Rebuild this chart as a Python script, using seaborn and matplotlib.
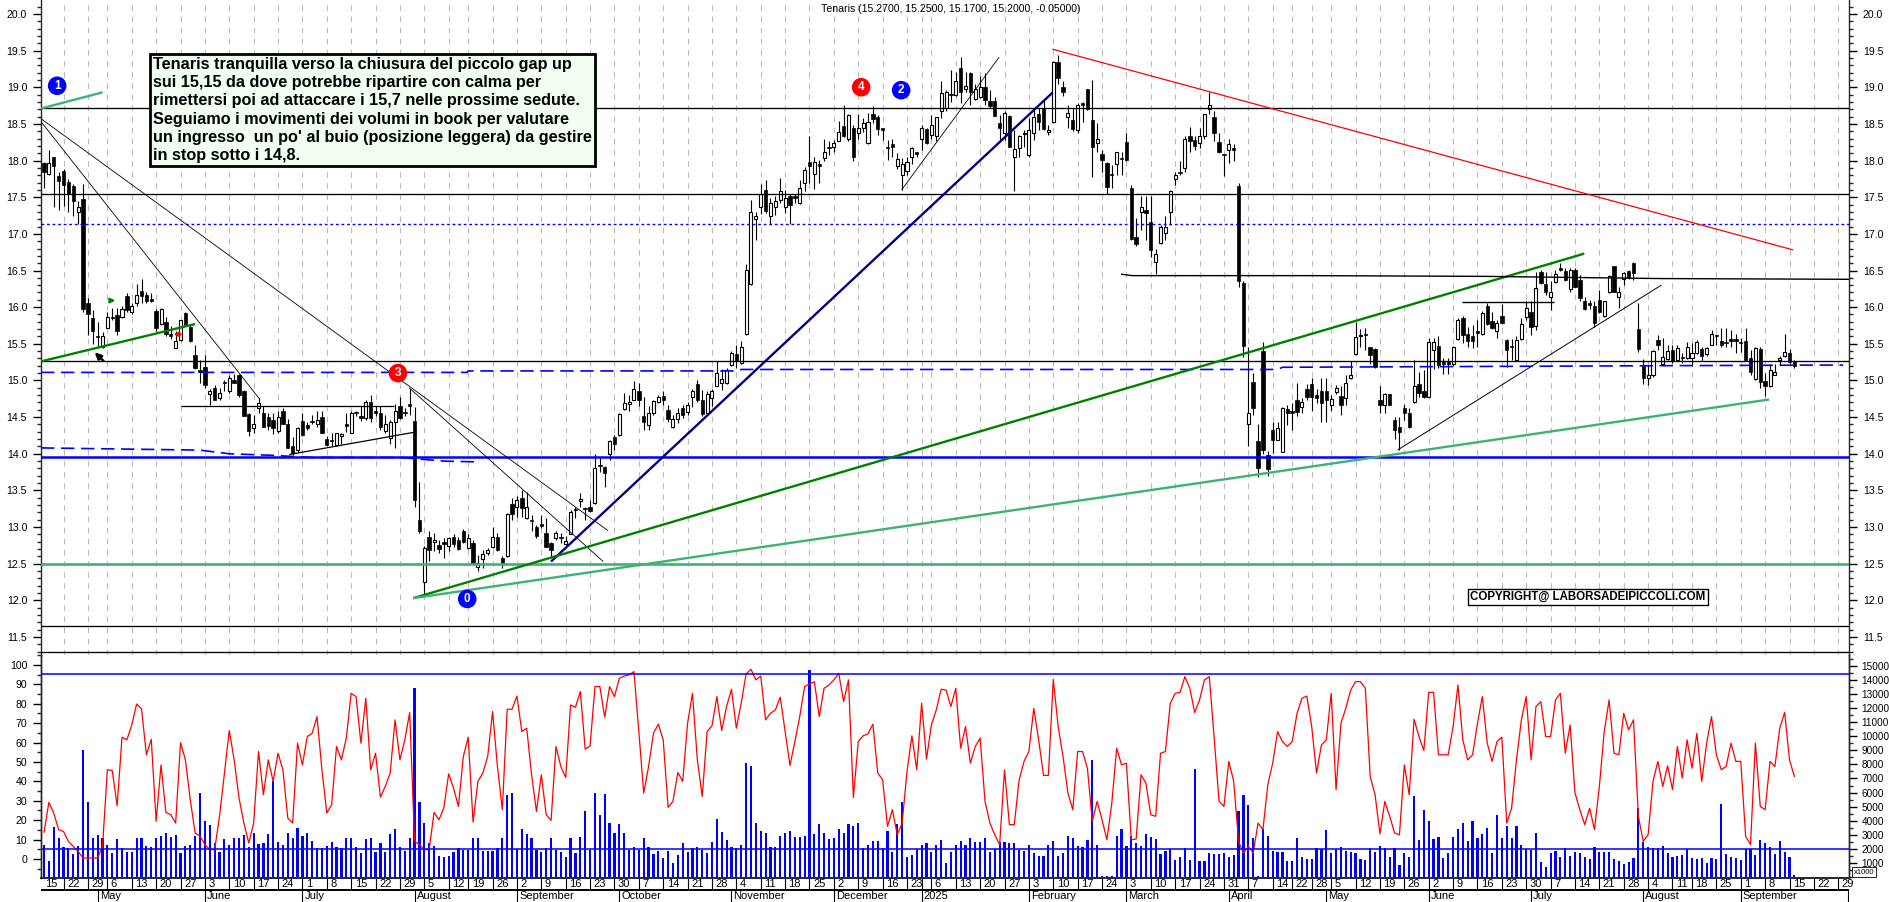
"""Tenaris daily candles with oscillator and volume panel, out.png"""
import matplotlib
matplotlib.use('Agg')
import matplotlib.pyplot as plt
from matplotlib.ticker import MultipleLocator
import numpy as np
import pandas as pd
import seaborn as sns

W, H = 1890, 902

opens = [
    17.97,17.82,18.05,17.79,17.86,17.71,17.65,17.30,17.48,16.05,
    15.85,15.60,15.46,15.72,15.85,15.89,15.86,16.15,15.93,16.06,
    16.22,16.17,16.09,15.95,15.77,15.80,15.61,15.44,15.55,15.92,
    15.73,15.35,15.12,15.19,14.82,14.90,14.76,14.96,14.85,15.00,
    15.07,14.86,14.54,14.35,14.62,14.55,14.50,14.46,14.31,14.58,
    14.40,14.10,14.05,14.45,14.39,14.43,14.41,14.50,14.20,14.17,
    14.12,14.24,14.38,14.29,14.55,14.49,14.49,14.70,14.56,14.55,
    14.31,14.21,14.44,14.65,14.55,14.68,14.45,13.09,12.25,12.87,
    12.79,12.76,12.77,12.74,12.87,12.82,12.94,12.72,12.78,12.45,
    12.56,12.64,12.73,12.87,12.58,12.60,13.32,13.27,13.39,13.12,
    13.08,13.00,13.02,12.92,12.78,12.85,12.85,12.77,12.91,13.23,
    13.35,13.24,13.28,13.33,13.85,13.82,14.00,14.23,14.25,14.61,
    14.68,14.74,14.86,14.52,14.39,14.56,14.71,14.79,14.60,14.36,
    14.48,14.63,14.57,14.77,14.95,14.74,14.55,14.76,14.93,14.96,
    14.96,15.21,15.36,15.24,15.63,16.31,17.20,17.36,17.60,17.24,
    17.36,17.46,17.36,17.51,17.52,17.42,17.69,17.98,17.81,17.93,
    18.03,18.17,18.19,18.27,18.47,18.30,18.45,18.38,18.45,18.24,
    18.63,18.59,18.42,18.17,18.22,17.93,17.80,17.86,18.05,18.09,
    18.30,18.43,18.35,18.33,18.68,18.71,18.89,18.90,19.26,18.98,
    19.19,18.84,18.87,19.00,18.81,18.81,18.51,18.38,18.61,18.05,
    18.17,18.36,18.07,18.37,18.63,18.70,18.39,18.52,19.35,19.00,
    18.59,18.55,18.42,18.76,18.98,18.55,18.24,18.09,17.96,17.80,
    17.95,18.02,18.25,17.62,16.96,17.30,17.33,17.16,16.61,16.87,
    17.01,17.30,17.75,17.83,17.90,18.34,18.28,18.24,18.34,18.70,
    18.59,18.25,18.07,18.15,18.17,17.65,16.33,14.40,14.98,14.17,
    15.40,13.98,14.33,14.19,14.03,14.61,14.56,14.74,14.64,14.89,
    14.95,14.80,14.86,14.86,14.66,14.84,14.79,14.76,15.04,15.36,
    15.60,15.62,15.45,15.43,14.74,14.67,14.82,14.46,14.37,14.63,
    14.56,14.70,14.95,14.86,14.78,15.42,15.47,15.23,15.23,15.22,
    15.56,15.85,15.63,15.60,15.65,15.63,16.01,15.81,15.68,15.88,
    15.55,15.45,15.28,15.57,15.86,15.94,15.74,16.48,16.32,16.14,
    16.34,16.51,16.49,16.25,16.51,16.37,16.08,16.03,16.01,16.10,
    15.88,16.20,16.56,16.14,16.38,16.49,16.60,15.70,15.20,15.03,
    15.07,15.55,15.22,15.29,15.42,15.28,15.30,15.31,15.30,15.37,
    15.43,15.36,15.49,15.60,15.54,15.51,15.54,15.54,15.51,15.54,
    15.30,15.02,15.43,14.99,14.92,15.08,15.28,15.33,15.37,15.27,
]
highs = [
    17.98,18.15,18.05,17.85,17.88,17.75,17.68,17.45,17.68,16.12,
    15.96,15.80,15.66,15.94,15.99,15.99,16.01,16.19,16.05,16.32,
    16.39,16.21,16.19,15.98,15.99,15.86,15.74,15.67,15.83,15.94,
    15.76,15.48,15.28,15.35,14.88,14.94,14.90,15.01,15.08,15.09,
    15.09,14.87,14.55,14.53,14.76,14.65,14.55,14.55,14.58,14.63,
    14.48,14.23,14.37,14.55,14.44,14.53,14.58,14.58,14.24,14.28,
    14.29,14.29,14.55,14.58,14.58,14.65,14.74,14.80,14.65,14.65,
    14.53,14.46,14.68,14.77,14.62,14.88,14.64,13.62,12.74,12.94,
    12.92,12.83,12.85,12.87,12.90,12.87,12.97,12.90,12.83,12.62,
    12.69,12.71,13.00,12.92,12.61,13.19,13.39,13.42,13.50,13.48,
    13.17,13.03,13.17,13.12,12.79,12.94,12.92,12.88,13.23,13.28,
    13.46,13.28,13.37,14.00,13.94,13.84,14.19,14.26,14.55,14.83,
    14.80,14.99,14.96,14.78,14.65,14.73,14.80,14.86,14.67,14.53,
    14.62,14.67,14.71,14.89,15.00,14.87,14.85,14.88,15.27,15.15,
    15.17,15.40,15.49,15.54,16.59,17.46,17.30,17.68,17.73,17.49,
    17.51,17.76,17.60,17.55,17.55,17.73,17.91,18.33,18.05,18.01,
    18.30,18.26,18.28,18.54,18.76,18.64,18.49,18.64,18.58,18.65,
    18.74,18.62,18.44,18.28,18.29,18.10,18.03,18.05,18.19,18.10,
    18.49,18.45,18.62,18.60,19.08,18.96,19.24,19.21,19.41,19.21,
    19.21,19.05,19.15,19.19,18.96,18.87,18.62,18.67,18.62,18.42,
    18.35,18.42,18.58,18.69,18.71,18.83,18.49,19.36,19.44,19.08,
    18.76,18.71,18.78,18.80,18.98,19.10,18.51,18.15,17.98,17.94,
    18.12,18.12,18.37,17.67,17.21,17.51,17.52,17.51,16.80,17.12,
    17.24,17.60,17.85,17.99,18.33,18.46,18.33,18.44,18.64,18.94,
    18.67,18.37,18.08,18.30,18.23,17.69,16.35,15.46,15.10,14.40,
    15.53,14.04,14.44,14.44,14.64,14.67,14.69,14.96,14.76,14.95,
    15.03,14.89,15.03,15.03,14.80,14.94,14.92,15.07,15.26,15.80,
    15.70,15.71,15.45,15.44,14.92,14.83,14.82,14.50,14.50,14.68,
    14.62,15.28,15.12,15.14,15.58,15.58,15.61,15.30,15.30,15.47,
    15.85,15.88,15.73,15.76,15.83,15.95,16.05,15.93,15.83,16.04,
    15.57,15.57,15.60,15.85,16.08,16.08,16.48,16.51,16.48,16.35,
    16.51,16.60,16.53,16.54,16.53,16.44,16.14,16.10,16.09,16.23,
    16.09,16.44,16.56,16.27,16.48,16.51,16.62,16.06,15.29,15.21,
    15.42,15.62,15.58,15.49,15.49,15.49,15.38,15.53,15.51,15.55,
    15.46,15.46,15.69,15.64,15.71,15.71,15.69,15.64,15.58,15.71,
    15.42,15.45,15.45,15.10,15.23,15.23,15.33,15.64,15.43,15.28,
]
lows = [
    17.63,17.80,17.37,17.33,17.38,17.30,17.24,17.13,15.94,15.62,
    15.50,15.46,15.44,15.72,15.82,15.62,15.85,15.94,15.90,16.01,
    16.05,16.06,16.07,15.67,15.76,15.60,15.56,15.44,15.54,15.74,
    15.53,15.15,14.96,14.90,14.67,14.73,14.74,14.85,14.83,14.96,
    14.77,14.51,14.24,14.28,14.55,14.36,14.33,14.27,14.29,14.40,
    14.08,13.99,14.03,14.24,14.33,14.40,14.37,14.28,14.10,14.10,
    14.11,14.14,14.30,14.28,14.51,14.45,14.46,14.44,14.51,14.33,
    14.28,14.14,14.08,14.48,14.51,14.53,13.28,12.92,12.07,12.54,
    12.67,12.64,12.58,12.67,12.73,12.69,12.78,12.70,12.48,12.40,
    12.44,12.62,12.71,12.68,12.44,12.59,13.10,13.14,13.14,13.11,
    12.94,12.85,12.99,12.73,12.58,12.83,12.78,12.75,12.90,13.12,
    13.28,13.10,13.21,13.32,13.75,13.55,13.91,14.05,14.24,14.60,
    14.58,14.73,14.65,14.32,14.32,14.53,14.69,14.67,14.44,14.35,
    14.42,14.49,14.53,14.64,14.71,14.52,14.53,14.65,14.92,14.87,
    14.95,15.20,15.17,15.22,15.62,16.30,16.92,17.27,17.28,17.13,
    17.26,17.42,17.28,17.13,17.42,17.41,17.58,17.69,17.61,17.69,
    17.99,18.08,18.12,18.26,18.32,18.26,17.99,18.29,18.39,18.23,
    18.51,18.35,18.28,18.01,18.05,17.89,17.60,17.80,17.95,18.05,
    18.15,18.23,18.29,18.26,18.58,18.67,18.80,18.88,18.78,18.94,
    18.76,18.83,18.85,18.76,18.71,18.61,18.28,18.28,18.18,17.59,
    18.05,18.19,18.05,18.28,18.42,18.42,18.35,18.51,19.05,18.88,
    18.44,18.40,18.38,18.53,18.69,17.78,18.12,17.85,17.55,17.62,
    17.80,17.80,17.99,16.92,16.83,17.05,16.92,16.69,16.45,16.86,
    16.92,17.12,17.67,17.80,17.85,18.12,18.15,18.17,18.30,18.64,
    18.26,18.10,17.79,17.96,18.00,16.27,15.32,14.10,14.53,13.68,
    14.00,13.70,14.01,14.19,14.02,14.39,14.33,14.51,14.55,14.73,
    14.59,14.69,14.44,14.44,14.58,14.82,14.53,14.67,15.02,15.35,
    15.46,15.42,15.23,15.17,14.56,14.55,14.66,14.20,14.05,14.46,
    14.35,14.69,14.78,14.76,14.77,15.15,15.17,15.09,15.09,15.20,
    15.55,15.51,15.46,15.44,15.45,15.62,15.76,15.70,15.58,15.77,
    15.18,15.28,15.26,15.55,15.83,15.62,15.69,16.31,16.17,15.96,
    16.33,16.49,16.35,16.20,16.27,16.08,15.96,15.98,15.73,15.92,
    15.87,16.19,16.21,15.99,16.30,16.38,16.37,15.39,14.95,14.94,
    15.05,15.42,15.21,15.28,15.24,15.26,15.24,15.29,15.20,15.36,
    15.27,15.33,15.48,15.49,15.45,15.46,15.46,15.37,15.39,15.27,
    15.07,15.01,14.90,14.79,14.91,15.07,15.21,15.32,15.23,15.17,
]
closes = [
    17.85,17.97,17.92,17.72,17.67,17.55,17.45,17.36,15.98,15.90,
    15.67,15.59,15.60,15.87,15.85,15.67,15.97,15.96,16.02,16.17,
    16.15,16.08,16.09,15.71,15.97,15.63,15.61,15.54,15.82,15.76,
    15.54,15.17,15.12,14.94,14.85,14.74,14.83,14.96,15.03,14.96,
    14.80,14.52,14.31,14.40,14.69,14.37,14.38,14.35,14.50,14.41,
    14.08,14.01,14.35,14.25,14.35,14.43,14.46,14.28,14.12,14.17,
    14.28,14.27,14.38,14.56,14.55,14.49,14.71,14.49,14.56,14.37,
    14.41,14.44,14.59,14.49,14.55,14.65,13.37,12.95,12.71,12.69,
    12.83,12.70,12.77,12.85,12.77,12.70,12.79,12.85,12.51,12.51,
    12.63,12.69,12.86,12.69,12.51,13.18,13.18,13.37,13.26,13.27,
    13.08,12.88,13.02,12.73,12.69,12.92,12.85,12.81,13.21,13.23,
    13.38,13.24,13.22,13.80,13.83,13.74,14.17,14.13,14.54,14.69,
    14.70,14.88,14.74,14.44,14.56,14.72,14.77,14.73,14.47,14.48,
    14.55,14.53,14.67,14.85,14.73,14.54,14.82,14.85,15.10,15.02,
    15.14,15.37,15.27,15.46,16.51,17.30,17.25,17.55,17.31,17.42,
    17.45,17.59,17.49,17.40,17.49,17.62,17.87,17.92,17.98,17.93,
    18.12,18.17,18.24,18.39,18.34,18.62,18.05,18.45,18.51,18.52,
    18.57,18.43,18.42,18.17,18.19,18.02,17.95,17.98,18.17,18.09,
    18.45,18.24,18.48,18.59,18.92,18.93,18.89,19.08,18.93,19.02,
    18.93,18.97,19.00,18.83,18.74,18.61,18.45,18.65,18.19,18.16,
    18.33,18.38,18.41,18.60,18.52,18.43,18.42,19.34,19.13,18.93,
    18.65,18.43,18.76,18.76,18.70,18.19,18.29,18.01,17.64,17.80,
    18.11,18.02,18.01,16.93,16.86,17.36,17.28,16.78,16.72,17.09,
    17.10,17.58,17.80,17.83,18.30,18.27,18.20,18.33,18.63,18.76,
    18.37,18.12,18.07,18.23,18.15,16.35,15.47,14.55,14.62,13.81,
    14.05,13.79,14.19,14.35,14.62,14.55,14.56,14.57,14.70,14.78,
    14.78,14.76,14.69,14.74,14.75,14.90,14.67,14.96,15.07,15.59,
    15.62,15.62,15.35,15.18,14.67,14.82,14.67,14.33,14.30,14.56,
    14.37,14.92,14.83,14.77,15.52,15.52,15.21,15.23,15.23,15.46,
    15.83,15.62,15.54,15.54,15.65,15.92,15.77,15.72,15.78,15.79,
    15.42,15.45,15.55,15.77,15.99,15.73,16.26,16.33,16.20,16.20,
    16.45,16.51,16.37,16.51,16.28,16.12,15.97,16.03,15.79,15.93,
    16.08,16.43,16.21,16.20,16.46,16.40,16.47,15.43,15.04,15.07,
    15.40,15.48,15.32,15.40,15.27,15.44,15.30,15.46,15.37,15.53,
    15.34,15.44,15.64,15.60,15.49,15.51,15.54,15.54,15.51,15.28,
    15.11,15.44,14.98,14.93,15.14,15.11,15.30,15.39,15.25,15.20,
]
volumes = [
    2.27,1.13,3.57,2.74,2.10,2.03,1.60,2.20,9.02,5.30,
    2.80,3.00,2.80,2.27,1.68,2.67,2.03,1.80,1.75,2.74,
    2.74,2.20,2.10,2.74,2.93,3.10,2.86,3.00,1.73,2.20,
    2.27,2.90,5.94,3.97,3.69,2.44,1.80,2.67,2.30,2.74,
    2.80,3.00,2.10,3.10,2.32,2.39,3.05,6.84,2.51,2.27,
    3.10,2.74,3.45,2.91,3.10,2.55,2.03,2.03,2.20,2.46,
    2.10,2.03,2.74,2.74,2.10,1.73,2.67,2.74,1.80,2.39,
    1.80,3.03,3.38,2.10,1.84,2.79,13.40,5.30,3.86,2.44,
    2.20,1.49,1.44,1.49,1.80,2.03,1.92,1.92,2.74,2.74,
    1.87,1.87,1.87,2.03,2.79,5.82,5.94,1.96,3.38,3.05,
    2.74,1.92,1.80,2.03,2.74,1.92,1.75,1.44,2.74,1.73,
    2.81,4.68,1.92,5.94,4.40,5.87,3.81,3.10,3.74,3.14,
    1.92,2.10,1.92,2.74,2.10,1.63,1.84,1.32,1.84,0.97,
    1.56,2.39,1.80,2.03,2.10,1.92,1.68,2.46,4.12,3.17,
    2.62,2.10,2.03,2.27,8.07,7.88,3.81,3.29,3.10,2.10,
    2.10,2.93,3.10,3.26,2.86,2.86,2.91,14.70,3.03,3.74,
    3.14,2.67,2.74,3.41,3.14,3.76,3.64,3.86,2.03,2.27,
    2.55,2.55,2.03,3.26,1.75,3.76,5.30,1.39,1.56,1.96,
    2.27,2.39,1.80,2.27,2.62,0.97,1.80,2.27,2.55,2.27,
    2.74,2.51,2.51,2.79,1.75,1.96,2.51,2.46,2.44,2.44,
    1.92,1.84,2.27,1.73,1.51,1.51,2.27,2.58,1.51,1.73,
    2.93,2.79,2.20,2.10,2.62,8.31,2.27,0.07,0.07,0.07,
    2.93,3.41,2.20,2.91,2.44,2.20,3.03,2.86,2.67,1.63,
    1.87,1.96,1.21,1.44,2.03,1.21,7.70,1.13,1.13,1.68,
    1.63,1.63,1.72,1.44,1.56,4.68,5.82,5.10,2.74,0.07,
    3.41,2.93,1.87,1.75,1.80,1.13,1.13,2.74,1.39,1.27,
    1.27,2.03,1.98,3.34,1.72,1.98,2.10,1.84,1.80,1.68,
    1.25,1.21,2.03,1.80,2.20,2.03,1.44,2.03,0.85,1.68,
    1.44,5.75,2.62,4.75,3.98,2.67,2.82,1.32,1.73,2.82,
    3.38,3.86,2.58,4.00,2.79,3.05,3.45,1.73,4.40,2.79,
    3.64,2.79,3.64,2.27,1.96,1.92,3.10,1.09,0.69,1.72,
    1.84,1.44,2.03,1.51,1.80,1.72,1.44,1.27,2.10,1.80,
    1.80,1.80,1.27,1.16,0.92,1.04,1.32,4.92,2.51,2.10,
    2.03,2.03,2.20,1.68,1.44,1.51,1.56,1.96,1.32,1.27,
    1.32,1.02,1.32,1.27,5.20,1.63,1.39,1.32,1.21,1.96,
    1.96,1.56,2.62,2.44,2.10,1.63,2.55,1.80,1.44,0.14,
]
oscillator = [
    13.7,29.2,23.7,15.1,14.2,9.1,6.5,3.9,0.5,0.5,0.5,0.5,6.5,46.0,45.6,27.4,
    62.8,61.4,69.1,79.9,77.4,53.7,61.7,19.4,48.5,24.0,22.8,18.5,60.0,51.1,30.5,13.4,
    11.7,7.4,4.8,4.8,22.0,44.3,66.2,51.1,31.4,18.5,8.2,18.5,55.4,33.1,51.1,40.0,
    54.5,46.0,21.1,18.5,59.7,48.5,63.1,64.8,73.4,46.0,23.7,28.0,58.0,51.1,62.3,85.4,
    83.7,59.7,82.8,46.0,54.5,31.9,37.4,44.3,71.7,51.1,61.4,75.5,9.1,7.4,4.8,4.8,
    24.0,20.2,26.2,43.9,36.5,27.1,52.8,62.8,19.0,40.0,44.3,52.8,76.0,47.7,25.4,77.2,
    77.2,84.0,65.7,67.4,43.4,24.5,43.4,22.8,19.9,58.0,47.7,42.0,79.4,78.2,86.3,56.6,
    58.3,88.9,88.9,73.1,88.9,83.7,93.1,94.3,94.9,96.6,65.7,34.0,47.7,64.8,69.5,61.4,
    26.6,29.7,44.6,40.0,70.0,85.4,51.1,32.2,65.7,68.6,83.7,66.2,78.6,87.5,67.4,80.3,
    95.4,97.8,92.3,94.3,71.7,75.1,76.8,83.4,65.7,48.2,60.5,73.4,88.9,90.2,91.4,73.4,
    88.0,89.7,92.3,95.7,81.1,92.3,31.7,60.5,63.5,64.5,69.5,44.3,40.8,16.8,25.4,12.5,
    18.5,45.1,63.5,46.0,80.3,51.5,69.1,76.8,87.5,87.1,78.6,
    88.0,57.1,68.3,49.4,58.0,62.3,29.7,18.5,12.5,7.4,46.0,17.7,17.7,40.8,50.3,55.4,
    77.7,61.4,43.1,43.1,92.6,68.3,52.8,34.0,25.4,55.4,55.4,46.8,19.4,29.7,20.2,9.9,
    28.8,57.1,48.5,49.4,9.9,10.3,43.4,39.1,22.8,22.0,54.5,55.4,80.3,85.4,85.9,94.0,
    88.0,75.5,82.0,92.3,94.0,62.3,29.7,27.1,50.3,40.0,9.1,3.1,6.5,3.1,18.5,15.1,
    38.3,49.4,65.7,60.5,58.0,60.5,75.1,82.8,84.0,68.3,44.3,58.8,61.4,85.4,35.7,70.0,
    77.7,87.1,91.4,91.4,88.0,42.5,33.1,12.9,29.7,22.0,13.4,12.5,48.5,33.1,72.0,63.1,
    55.9,85.9,85.9,53.7,53.7,53.7,68.3,89.7,61.4,51.1,53.7,70.0,83.7,59.7,50.3,60.5,
    62.8,18.5,26.2,51.1,71.7,83.7,51.1,78.6,81.1,63.1,63.1,82.0,85.4,54.5,69.1,34.0,
    25.4,17.7,26.2,15.1,37.4,65.7,82.0,54.5,53.7,75.1,66.6,71.7,22.0,9.1,12.5,40.0,
    50.3,37.4,48.0,35.7,58.0,41.7,61.4,46.8,64.8,40.0,59.7,73.4,53.7,46.0,47.7,59.7,
    50.3,50.3,11.7,7.4,59.7,27.1,25.4,50.3,47.7,67.4,75.5,51.1,42.5,
]

week_bars = [
    -0.4,4,9,13,18,23,28,33,38,43,48,53,58,63,68,73,78,83,87,92,97,102,107,112,117,
    122,127,132,137,142,147,152,157,162,167,172,177,182,187,192,197,202,207,212,217,
    222,227,232,237,242,247,252,256,260,264,269,274,279,284,289,294,299,304,309,314,
    319,324,329,334,338,343,348,353,358,363,368,
]
week_labels = [
    '15','22','29','6','13','20','27','3','10','17','24','1','8','15','22','29','5','12',
    '19','26','2','9','16','23','30','7','14','21','28','4','11','18','25','2','9','16','23',
    '6','13','20','27','3','10','17','24','3','10','17','24','31','7','14','22','28','5',
    '12','19','26','2','9','16','23','30','7','14','21','28','4','11','18','25','1','8',
    '15','22','29',
]
month_bars = [11,33,53,76,97,118,141,162,180,202,222,243,263,284,305,328,348,370]
month_labels = ['May','June','July','August','September','October','November','December','2025',
                'February','March','April','May','June','July','August','September','']

price_ticks = [11.5,12.0,12.5,13.0,13.5,14.0,14.5,15.0,15.5,16.0,16.5,17.0,17.5,18.0,18.5,19.0,19.5,20.0]
osc_ticks = [0,10,20,30,40,50,60,70,80,90,100]
volume_ticks = [1,2,3,4,5,6,7,8,9,10,11,12,13,14,15]

note = ("Tenaris tranquilla verso la chiusura del piccolo gap up\n"
        "sui 15,15 da dove potrebbe ripartire con calma per\n"
        "rimettersi poi ad attaccare i 15,7 nelle prossime sedute.\n"
        "Seguiamo i movimenti dei volumi in book per valutare\n"
        "un ingresso  un po' al buio (posizione leggera) da gestire\n"
        "in stop sotto i 14,8.")

BLUE = '#0000FF'
SEA = '#3CB371'
GREEN = '#008000'
NAVY = '#000080'
GRID = '#BBBBBB'


def px_box(left, top, right, bottom):
    return [left / W, 1 - bottom / H, (right - left) / W, (bottom - top) / H]


def draw_candles(ax, df):
    ax.vlines(df['bar'], df['low'], df['high'], color='black', lw=0.8, zorder=2)
    up = df[df['close'] > df['open']]
    down = df[df['close'] <= df['open']]
    ax.bar(up['bar'], up['close'] - up['open'], bottom=up['open'], width=0.62,
           facecolor='white', edgecolor='black', linewidth=0.8, zorder=3)
    ax.bar(down['bar'], (down['open'] - down['close']).clip(lower=0.02), bottom=down['close'],
           width=0.7, facecolor='black', edgecolor='black', linewidth=0.5, zorder=3)


def draw_trend_lines(ax):
    for lvl, col, lw, ls in [
        (18.71, 'black', 0.95, '-'), (17.55, 'black', 0.95, '-'), (17.13, BLUE, 1.0, (0, (2, 2))),
        (15.27, 'black', 0.95, '-'), (13.95, BLUE, 1.8, '-'), (12.50, SEA, 1.9, '-'),
        (11.65, 'black', 0.95, '-'), (11.30, 'black', 0.95, '-'),
    ]:
        ax.axhline(lvl, color=col, lw=lw, ls=ls, zorder=4)

    segments = [
        ([-0.6, 12.0], [18.71, 18.93], SEA, 1.7),
        ([-0.6, 115.7], [18.57, 12.95], 'black', 0.6),
        ([-0.6, 44.3], [18.53, 14.74], 'black', 0.6),
        ([74.9, 114.7], [14.90, 12.53], 'black', 0.6),
        ([-0.6, 31.0], [15.26, 15.77], GREEN, 1.7),
        ([28.1, 71.8], [14.65, 14.65], 'black', 0.9),
        ([50.3, 76.5], [13.99, 14.30], 'black', 0.9),
        ([175.9, 195.9], [17.60, 19.41], 'black', 0.6),
        ([104.0, 206.9], [12.53, 18.93], NAVY, 1.7),
        ([75.7, 315.9], [12.03, 16.73], GREEN, 1.7),
        ([75.7, 353.8], [12.03, 14.74], SEA, 1.7),
        ([206.8, 358.8], [19.52, 16.78], 'red', 0.9),
        ([220.9, 223.2, 259.7, 295.6, 331.7, 370.2], [16.45, 16.43, 16.43, 16.42, 16.39, 16.38], 'black', 1.0),
        ([290.9, 309.7], [16.07, 16.07], 'black', 1.0),
        ([277.6, 331.7], [14.05, 16.30], 'black', 0.7),
    ]
    for xs, ys, col, lw in segments:
        ax.plot(xs, ys, color=col, lw=lw, zorder=5, solid_capstyle='butt')

    dash = (0, (8, 4))
    ax.plot([-0.6, 86.8, 87, 142, 143, 253, 254, 364, 369],
            [15.11, 15.11, 15.13, 15.13, 15.15, 15.15, 15.18, 15.21, 15.21],
            color=BLUE, lw=1.2, ls=dash, zorder=4)
    ax.plot([-0.6, 32, 38, 46.4, 55, 73, 82, 88.6],
            [14.08, 14.05, 14.00, 13.98, 13.95, 13.95, 13.90, 13.89],
            color=BLUE, lw=1.2, ls=dash, zorder=4)


def draw_markers(ax):
    for bar, price, digit, col in [
        (2.7, 19.02, '1', BLUE), (72.6, 15.10, '3', 'red'), (167.6, 19.00, '4', 'red'),
        (175.8, 18.96, '2', BLUE), (86.8, 12.02, '0', BLUE),
    ]:
        ax.text(bar, price, digit, color='white', fontsize=8.5, fontweight='bold', ha='center',
                va='center', zorder=7, bbox=dict(boxstyle='circle,pad=0.22', fc=col, ec=col))

    ax.annotate('', xy=(15.2, 16.09), xytext=(13.0, 16.09), zorder=7,
                arrowprops=dict(arrowstyle='-|>', color=GREEN, lw=1.4, mutation_scale=7))
    ax.annotate('', xy=(26.0, 15.63), xytext=(28.6, 15.63), zorder=7,
                arrowprops=dict(arrowstyle='-|>', color='red', lw=1.4, mutation_scale=7))
    ax.annotate('', xy=(10.0, 15.41), xytext=(12.6, 15.24), zorder=7,
                arrowprops=dict(arrowstyle='-|>', color='black', lw=1.8, mutation_scale=9))


def main():
    sns.set_theme(style='white')
    plt.rcParams['font.family'] = ['Liberation Sans', 'DejaVu Sans']
    plt.rcParams['axes.linewidth'] = 1.0

    bars = np.arange(len(closes))
    candles = pd.DataFrame({'bar': bars, 'open': opens, 'high': highs, 'low': lows, 'close': closes})
    lower = pd.DataFrame({'bar': bars, 'volume': volumes, 'osc': oscillator})

    fig = plt.figure(figsize=(W / 100, H / 100), dpi=100, facecolor='white')
    ax_price = fig.add_axes(px_box(41, 0, 1849, 655))
    ax_osc = fig.add_axes(px_box(41, 655, 1849, 878))
    ax_vol = ax_osc.twinx()
    ax_dates = fig.add_axes(px_box(41, 878, 1849, 902))

    xlim = (-0.615, 370.2)
    grid_bars = sorted(set([b for b in week_bars if b > 0] + [180]))
    grid_style = dict(color=GRID, lw=0.8, ls=(0, (5, 5)), zorder=0)

    # price panel
    draw_candles(ax_price, candles)
    draw_trend_lines(ax_price)
    draw_markers(ax_price)
    ax_price.set_xlim(xlim)
    ax_price.set_ylim(11.255, 20.19)
    ax_price.set_xticks(grid_bars)
    ax_price.grid(axis='x', **grid_style)
    ax_price.set_axisbelow(True)
    ax_price.set_yticks(price_ticks)
    ax_price.set_yticklabels([f'{t:.1f}' for t in price_ticks])
    ax_price.yaxis.set_minor_locator(MultipleLocator(0.1))
    ax_price.tick_params(axis='x', length=0, labelbottom=False)
    ax_price.tick_params(axis='y', which='major', left=True, right=True, labelleft=True, labelright=True,
                         length=6, width=1, labelsize=7.6, pad=4, colors='black')
    ax_price.tick_params(axis='y', which='minor', left=True, right=True, length=3, width=1)
    ax_price.spines['bottom'].set_visible(False)
    ax_price.spines['top'].set_visible(False)

    ax_price.text(153, H - 57, note, transform=None, fontsize=11.7, fontweight='bold', color='black',
                  ha='left', va='top', linespacing=1.27, zorder=8,
                  bbox=dict(boxstyle='square,pad=0.2', fc='#F0FFF0', ec='black', lw=2))
    ax_price.text(1470, H - 597, 'COPYRIGHT@ LABORSADEIPICCOLI.COM', transform=None, fontsize=8.3,
                  fontweight='bold', color='black', ha='left', va='center', zorder=8,
                  bbox=dict(boxstyle='square,pad=0.2', fc='white', ec='black', lw=1))
    ax_price.text(821, H - 9, 'Tenaris (15.2700, 15.2500, 15.1700, 15.2000, -0.05000)', transform=None,
                  fontsize=7.6, color='black', ha='left', va='center', zorder=8)

    # lower panel: volume bars behind, oscillator on top
    sns.barplot(data=lower, x='bar', y='volume', native_scale=True, color=BLUE, saturation=1,
                width=0.45, linewidth=0, errorbar=None, ax=ax_vol, zorder=3)
    sns.lineplot(data=lower, x='bar', y='osc', color='red', lw=0.9, errorbar=None, ax=ax_osc, zorder=4)
    ax_osc.axhline(95.2, color=BLUE, lw=1.1, zorder=5)
    ax_osc.axhline(5.1, color=BLUE, lw=1.1, zorder=5)

    ax_osc.set_zorder(ax_vol.get_zorder() + 1)
    ax_osc.patch.set_visible(False)
    ax_vol.set_facecolor('white')

    ax_vol.set_xlim(xlim)
    ax_osc.set_xlim(xlim)
    ax_osc.set_ylim(-9.8, 105.15)
    ax_vol.set_ylim(-0.07, 15.77)
    ax_osc.set_xlabel('')
    ax_osc.set_ylabel('')
    ax_vol.set_xlabel('')
    ax_vol.set_ylabel('')

    ax_vol.set_xticks(grid_bars)
    ax_vol.grid(axis='x', **grid_style)
    ax_vol.set_axisbelow(True)
    ax_vol.set_yticks(volume_ticks)
    ax_vol.set_yticklabels([str(t * 1000) for t in volume_ticks])
    ax_vol.yaxis.set_minor_locator(MultipleLocator(0.5))
    ax_vol.tick_params(axis='x', length=0, labelbottom=False, bottom=False)
    ax_vol.tick_params(axis='y', which='major', right=True, left=False, length=6, width=1, labelsize=7.2,
                       pad=3, colors='black')
    ax_vol.tick_params(axis='y', which='minor', right=True, left=False, length=3, width=1)

    ax_osc.set_xticks([])
    ax_osc.set_yticks(osc_ticks)
    ax_osc.set_yticklabels([str(t) for t in osc_ticks])
    ax_osc.yaxis.set_minor_locator(MultipleLocator(5))
    ax_osc.tick_params(axis='y', which='major', left=True, length=6, width=1, labelsize=7.6, pad=4, colors='black')
    ax_osc.tick_params(axis='y', which='minor', left=True, length=3, width=1)
    for ax in (ax_osc, ax_vol):
        ax.spines['top'].set_visible(False)
        ax.spines['bottom'].set_visible(False)

    ax_vol.text(1854, H - 872, 'x1000', transform=None, fontsize=5.5, color='black', ha='left', va='center',
                bbox=dict(boxstyle='square,pad=0.25', fc='white', ec='black', lw=0.6), clip_on=False)

    # date strip below the panels
    ax_dates.set_xlim(xlim)
    ax_dates.set_ylim(0, 1)
    ax_dates.set_xticks([])
    ax_dates.set_yticks([])
    for side in ('left', 'right', 'bottom'):
        ax_dates.spines[side].set_visible(False)
    ax_dates.spines['top'].set_linewidth(1.4)
    ax_dates.patch.set_visible(False)
    ax_dates.axhline(0.5, color='black', lw=1.4)
    ax_dates.vlines(grid_bars, 0.5, 1, color='black', lw=0.8)
    ax_dates.vlines(month_bars, 0, 0.5, color='black', lw=0.8)
    for bar, label in zip(week_bars, week_labels):
        ax_dates.annotate(label, (bar, 0.75), xytext=(2.5, 0), textcoords='offset points', fontsize=8,
                          color='black', ha='left', va='center', annotation_clip=False)
    for bar, label in zip(month_bars, month_labels):
        ax_dates.annotate(label, (bar, 0.25), xytext=(1.5, 0), textcoords='offset points', fontsize=8,
                          color='black', ha='left', va='center', annotation_clip=False)

    fig.savefig('out.png', dpi=100)
    plt.close(fig)


if __name__ == '__main__':
    main()
